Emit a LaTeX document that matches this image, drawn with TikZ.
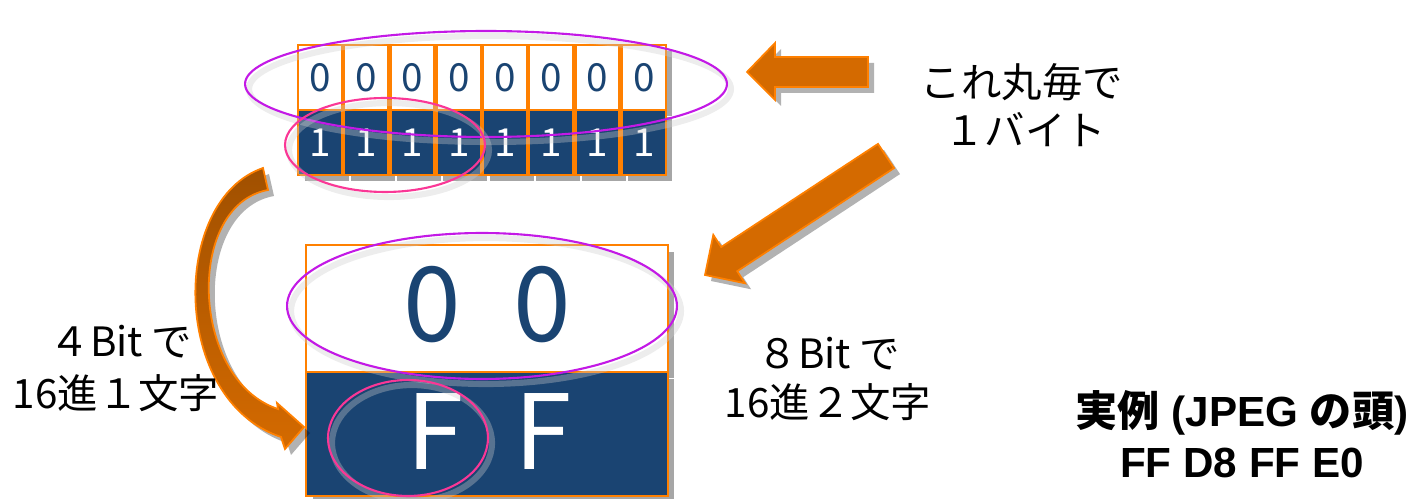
\documentclass[tikz,border=0pt]{standalone}
\usepackage{fontspec}
\setmainfont{Noto Sans CJK JP}
\newfontfamily\jp{Noto Sans CJK JP}
\newfontfamily\arialb{Liberation Sans}
\usetikzlibrary{shadows}
\definecolor{edge}{RGB}{255,128,0}
\definecolor{navy}{RGB}{26,68,114}
\definecolor{arrfill}{RGB}{212,106,0}
\definecolor{arrdark}{RGB}{160,80,0}
\definecolor{purp}{RGB}{195,25,230}
\definecolor{pinkc}{RGB}{250,55,150}
\tikzset{
  shad/.style={drop shadow={shadow xshift=0.13cm, shadow yshift=-0.13cm, opacity=0.35, fill=black}},
  bit/.style={rectangle, draw=edge, line width=1.3pt, minimum width=0.88cm, minimum height=1.3cm, inner sep=0pt, font=\fontsize{22}{22}\selectfont, shad},
  zerobit/.style={bit, fill=white, text=navy},
  onebit/.style={bit, fill=navy, text=white},
  bigbox/.style={rectangle, draw=edge, line width=1.3pt, minimum width=7.24cm, inner sep=0pt, shad},
  bigtxt/.style={inner sep=0pt, font=\fontsize{59}{59}\selectfont},
  ring/.style={line width=1.2pt},
  glow/.style={draw=black!20, line width=3.5pt, opacity=0.35},
  blockarrow/.style={fill=arrfill, draw=edge, line width=1pt, line join=miter, drop shadow={shadow xshift=0.12cm, shadow yshift=-0.12cm, opacity=0.3, fill=black}},
  lbl/.style={inner sep=0pt, font=\fontsize{23}{23}\selectfont},
  blbl/.style={inner sep=0pt, font=\arialb\bfseries\fontsize{24}{24}\selectfont},
}
\begin{document}
\begin{tikzpicture}[x=0.02cm,y=-0.02cm]
\useasboundingbox (0,0) rectangle (1415,499);
% top bit rows
\foreach \i in {0,...,7}{
  \node[zerobit] (z\i) at ({320+46.25*\i},77.5) {0};
}
\foreach \i in {0,...,7}{
  \node[onebit] (o\i) at ({320+46.25*\i},142.5) {1};
}
% big box
\node[bigbox, fill=white, minimum height=2.54cm] (bw) at (487,308.5) {};
\node[bigbox, fill=navy, minimum height=2.48cm] (bd) at (487,434) {};
\node[bigtxt, text=navy] (d1) at (432,305) {0};
\node[bigtxt, text=navy] (d2) at (542,305) {0};
\node[bigtxt, text=white] (f1) at (435,432) {F};
\node[bigtxt, text=white] (f2) at (543,432) {F};
% ellipses with glow
\draw[glow] (490,89) ellipse [x radius=4.82cm, y radius=1.06cm];
\draw[ring, draw=purp] (486,84) ellipse [x radius=4.82cm, y radius=1.06cm];
\draw[glow] (389,150) ellipse [x radius=2cm, y radius=0.94cm];
\draw[ring, draw=pinkc] (385,145) ellipse [x radius=2cm, y radius=0.94cm];
\draw[glow] (486,311) ellipse [x radius=3.9cm, y radius=1.46cm];
\draw[ring, draw=purp] (482,306) ellipse [x radius=3.9cm, y radius=1.46cm];
\draw[glow] (412,443) ellipse [x radius=1.6cm, y radius=1.16cm];
\draw[ring, draw=pinkc] (408,438) ellipse [x radius=1.6cm, y radius=1.16cm];
% block arrows
\draw[blockarrow] (747,72) -- (775,43) -- (775,57) -- (868,57) -- (868,87) -- (775,87) -- (775,100) -- cycle;
\draw[blockarrow] (705,275) -- (745.1,283.3) -- (737.2,271.2) -- (894,168.1) -- (878,143.9) -- (721.2,247.0) -- (713.3,234.9) -- cycle;
% curved arrow
\draw[blockarrow, top color=arrdark, bottom color=arrfill]
  (263,168) .. controls (170,200) and (170,400) .. (281,437)
  -- (285,449) -- (304,427) -- (277,403) -- (278,409)
  .. controls (190,380) and (185,205) .. (268,190) -- cycle;
% labels
\node[lbl] (t1) at (1022,82) {これ丸毎で};
\node[lbl] (t2) at (1025,130) {１バイト};
\node[lbl] (l1) at (121,342) {４Bit で};
\node[lbl] (l2) at (116,393) {16進１文字};
\node[lbl] (r1) at (829,354) {８Bit で};
\node[lbl] (r2) at (828,402) {16進２文字};
\node[blbl] (b1) at (1242,413) {{\jp\bfseries 実例} (JPEG {\jp\bfseries の頭})};
\node[blbl] (b2) at (1242,463) {FF D8 FF E0};
\end{tikzpicture}
\end{document}
